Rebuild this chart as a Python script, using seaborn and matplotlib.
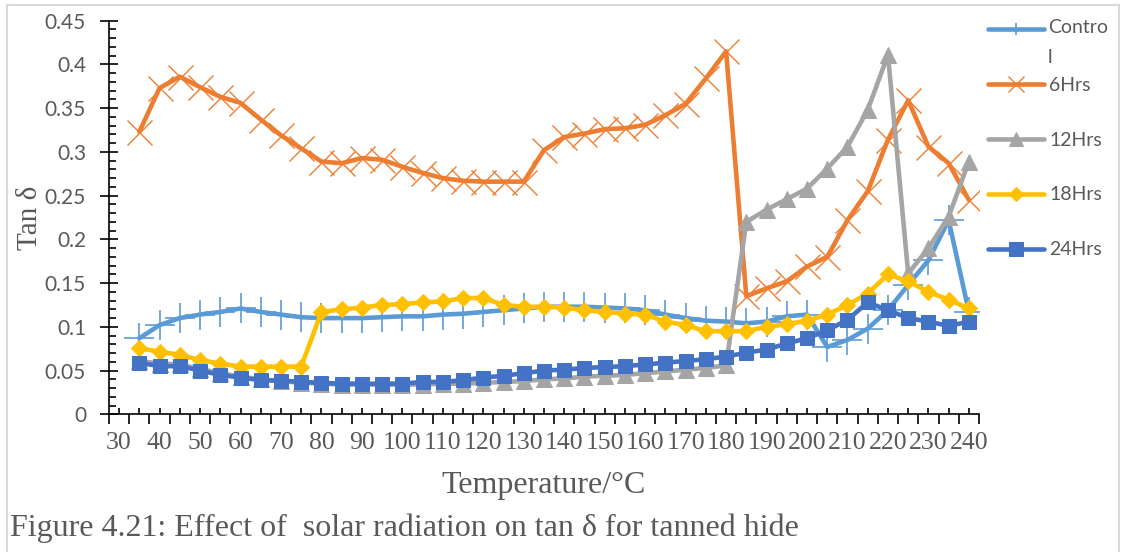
import numpy as np
import pandas as pd
import matplotlib
matplotlib.use("Agg")
import matplotlib.pyplot as plt
import seaborn as sns
from matplotlib.ticker import MultipleLocator, FixedLocator, FuncFormatter
from matplotlib.patches import Rectangle

temps = list(range(35, 245, 5))

control = [0.087, 0.102, 0.110, 0.114, 0.117, 0.121, 0.117, 0.114, 0.111, 0.110,
           0.110, 0.110, 0.111, 0.112, 0.112, 0.114, 0.115, 0.117, 0.119, 0.121,
           0.123, 0.123, 0.123, 0.122, 0.121, 0.119, 0.114, 0.110, 0.107, 0.106,
           0.104, 0.106, 0.112, 0.114, 0.077, 0.085, 0.098, 0.119, 0.148, 0.176,
           0.222, 0.117]
hrs6 = [0.323, 0.373, 0.386, 0.374, 0.363, 0.356, 0.337, 0.319, 0.304, 0.289,
        0.287, 0.293, 0.291, 0.283, 0.276, 0.270, 0.267, 0.266, 0.266, 0.266,
        0.302, 0.317, 0.321, 0.326, 0.327, 0.331, 0.342, 0.355, 0.384, 0.415,
        0.135, 0.144, 0.152, 0.169, 0.180, 0.222, 0.255, 0.314, 0.359, 0.306,
        0.287, 0.245]
hrs12 = [0.061, 0.058, 0.057, 0.052, 0.047, 0.043, 0.040, 0.038, 0.036, 0.035,
         0.034, 0.034, 0.034, 0.034, 0.034, 0.035, 0.035, 0.036, 0.037, 0.038,
         0.040, 0.041, 0.043, 0.044, 0.045, 0.047, 0.049, 0.051, 0.053, 0.056,
         0.220, 0.234, 0.246, 0.258, 0.281, 0.306, 0.348, 0.411, 0.161, 0.190,
         0.226, 0.289]
hrs18 = [0.0755, 0.0716, 0.068, 0.062, 0.058, 0.0545, 0.0545, 0.0545, 0.0545, 0.117,
         0.120, 0.122, 0.125, 0.126, 0.128, 0.129, 0.133, 0.133, 0.125, 0.123,
         0.123, 0.122, 0.119, 0.117, 0.115, 0.114, 0.106, 0.102, 0.095, 0.095,
         0.095, 0.100, 0.103, 0.107, 0.114, 0.125, 0.138, 0.160, 0.152, 0.140,
         0.131, 0.121]
hrs24 = [0.059, 0.055, 0.055, 0.050, 0.045, 0.042, 0.039, 0.0385, 0.037, 0.036,
         0.035, 0.035, 0.035, 0.035, 0.037, 0.037, 0.039, 0.042, 0.044, 0.047,
         0.050, 0.051, 0.053, 0.054, 0.055, 0.057, 0.059, 0.061, 0.063, 0.066,
         0.0705, 0.074, 0.081, 0.087, 0.096, 0.108, 0.128, 0.119, 0.110, 0.106,
         0.101, 0.106]

labels = ["Contro\nl", "6Hrs", "12Hrs", "18Hrs", "24Hrs"]
colors = ["#5B9BD5", "#ED7D31", "#A5A5A5", "#FFC000", "#4472C4"]

sns.set_style("white")
plt.rcParams["font.family"] = ["Lato", "DejaVu Sans"]
text_gray = "#595959"
serif = ["Liberation Serif", "DejaVu Serif"]

fig = plt.figure(figsize=(11.25, 5.52), dpi=100)
ax = fig.add_axes([109 / 1125, 1 - 414.3 / 552, 870 / 1125, 393.6 / 552])

# series drawn in Excel order, so 24Hrs ends on top
styles = [
    dict(marker="+", markersize=21, markeredgewidth=1.2),
    dict(marker="x", markersize=18, markeredgewidth=1.0),
    dict(marker="^", markersize=11),
    dict(marker="D", markersize=8),
    dict(marker="s", markersize=9.5),
]
for vals, lab, col, st in zip([control, hrs6, hrs12, hrs18, hrs24], labels, colors, styles):
    df = pd.DataFrame({"Temperature": temps, "tan": vals})
    sns.lineplot(data=df, x="Temperature", y="tan", ax=ax, color=col, linewidth=3.3,
                 markeredgecolor=col, markerfacecolor=col, label=lab, **st)

ax.set_xlim(27.5, 242.5)
ax.set_ylim(0, 0.45)

ax.xaxis.set_major_locator(MultipleLocator(5))
ax.xaxis.set_minor_locator(FixedLocator(np.arange(27.5, 243, 5)))
ax.xaxis.set_major_formatter(FuncFormatter(lambda v, p: f"{v:.0f}" if round(v) % 10 == 0 else ""))
ax.yaxis.set_major_locator(MultipleLocator(0.05))
ax.yaxis.set_minor_locator(MultipleLocator(0.01))
ax.yaxis.set_major_formatter(FuncFormatter(lambda v, p: f"{v:.2f}".rstrip("0").rstrip(".") if v else "0"))

ax.tick_params(which="both", bottom=True, left=True, top=False, right=False)
ax.tick_params(axis="x", which="major", direction="in", length=4, width=1.2, color="black",
               labelsize=18.5, labelcolor=text_gray, pad=13)
ax.tick_params(axis="x", which="minor", direction="out", length=7, width=1.2, color="black")
ax.tick_params(axis="y", which="major", direction="inout", length=13, width=1.2, color="black",
               labelsize=15, labelcolor=text_gray, pad=10)
ax.tick_params(axis="y", which="minor", direction="in", length=5, width=1.2, color="black")
for t in ax.get_xticklabels():
    t.set_family(serif)

for s in ["top", "right"]:
    ax.spines[s].set_visible(False)
for s in ["left", "bottom"]:
    ax.spines[s].set_color("black")
    ax.spines[s].set_linewidth(1.2)

ax.set_xlabel("Temperature/°C", family=serif, fontsize=23, color=text_gray, labelpad=12)
ax.set_ylabel("Tan δ", family=serif, fontsize=21, color=text_gray, labelpad=1)

# legend: Excel wraps the first label, so its text is placed on its own
ax.get_legend().remove()
handles, labs = ax.get_legend_handles_labels()
leg = fig.legend(handles, [""] + labs[1:], loc="upper left", bbox_to_anchor=(978 / 1125, 1 - 12 / 552),
                 frameon=False, fontsize=14, handlelength=2.9, handletextpad=0.25,
                 labelspacing=1.95, borderpad=0, labelcolor=text_gray)
for h, ms in zip(leg.legend_handles, [9, 11, 10, 7, 10]):
    h.set_markersize(ms)
fig.text(1048 / 1125, 1 - 19 / 552, labs[0], fontsize=14, color=text_gray,
         va="top", ha="left", linespacing=1.95)

fig.text(10 / 1125, 1 - 536 / 552, "Figure 4.21: Effect of  solar radiation on tan δ for tanned hide",
         family=serif, fontsize=23, color=text_gray, va="baseline", ha="left")

fig.patches.append(Rectangle((7 / 1125, -0.05), 1112 / 1125, 1.05 - 5 / 552, transform=fig.transFigure,
                             fill=False, edgecolor="#D9D9D9", linewidth=1.5))

fig.savefig("out.png", dpi=100)
